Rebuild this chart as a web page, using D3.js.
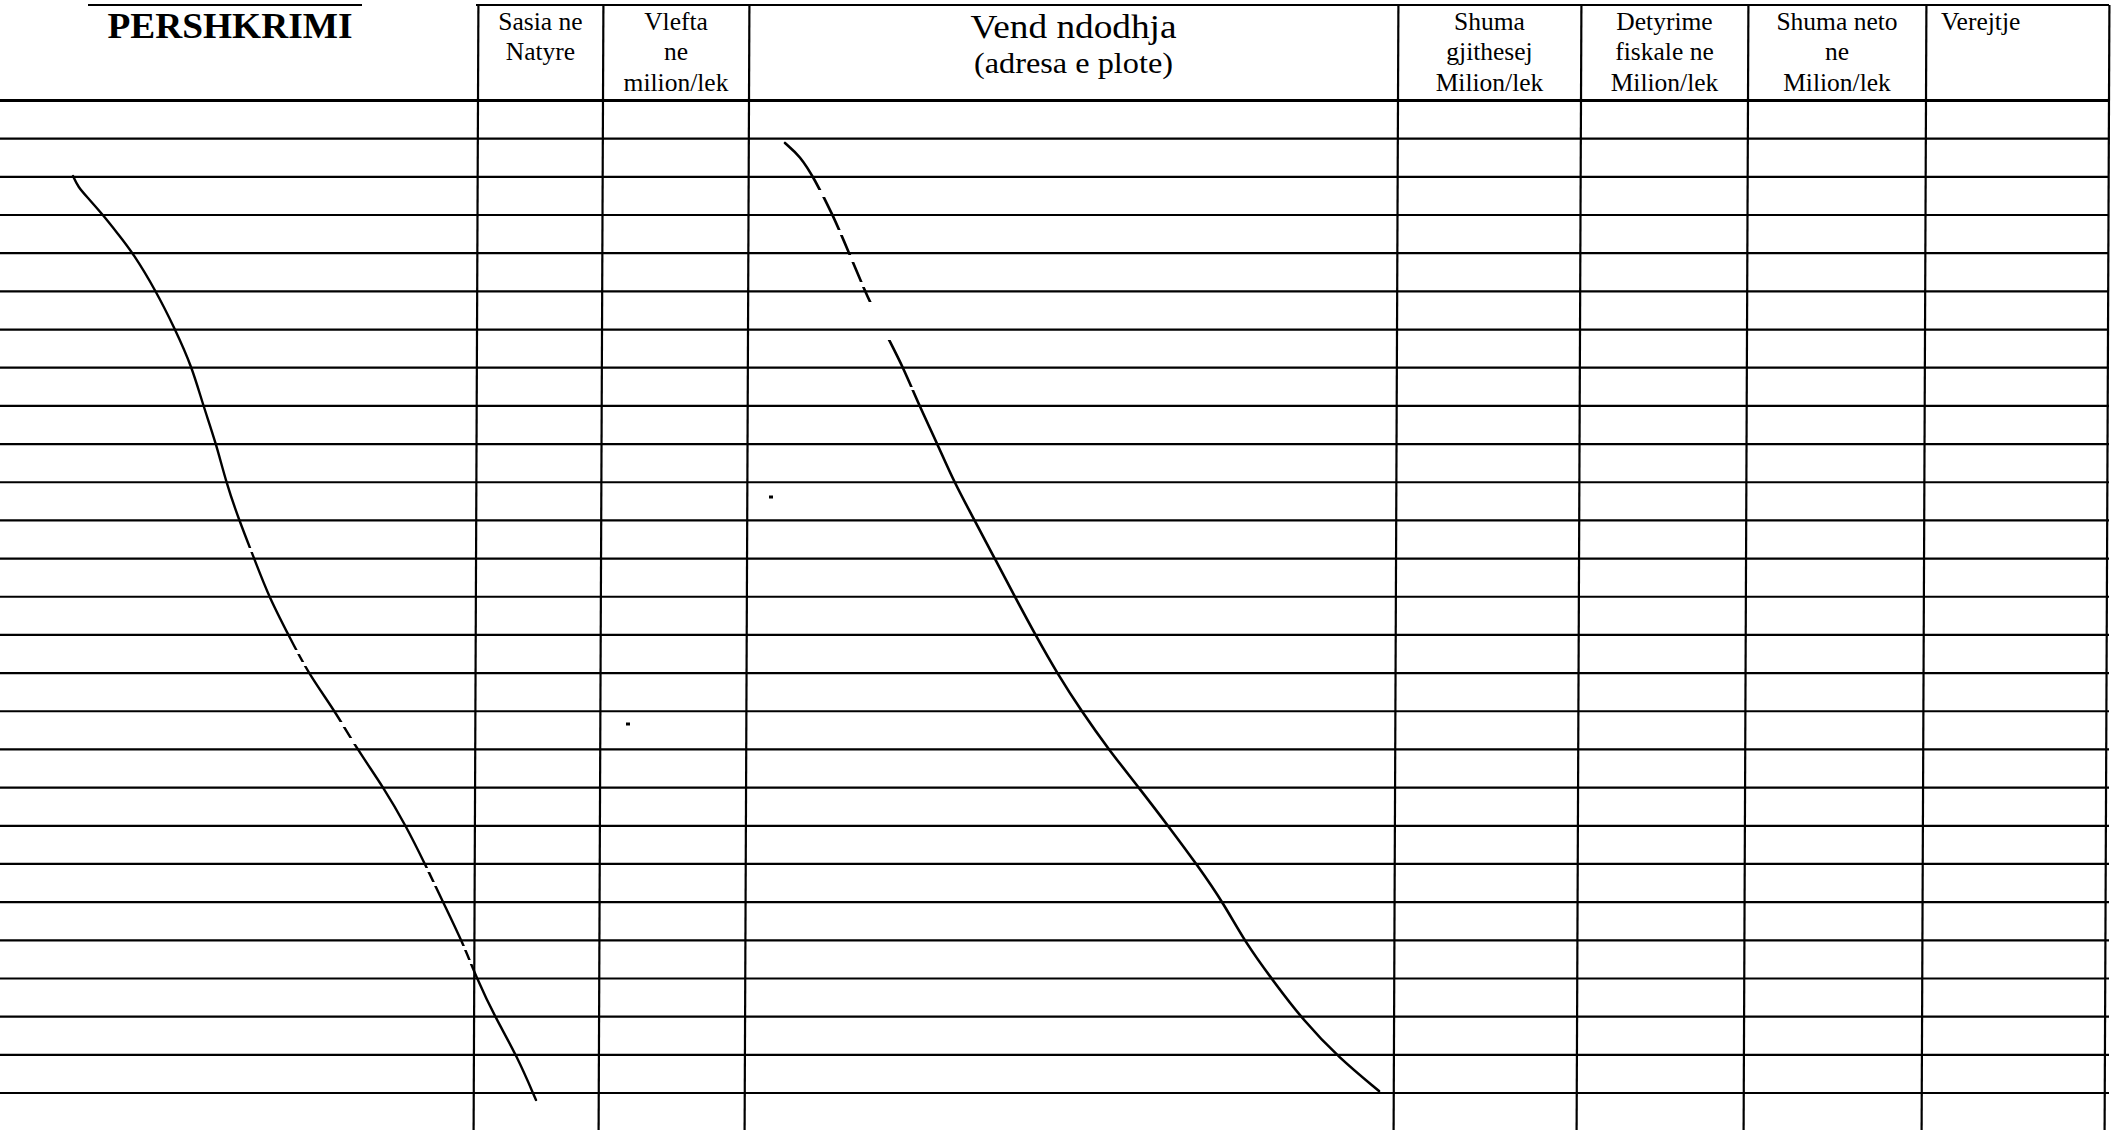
<!DOCTYPE html>
<html>
<head>
<meta charset="utf-8">
<script src="https://cdn.jsdelivr.net/npm/d3@7/dist/d3.min.js"></script>
<style>
    html, body { margin: 0; padding: 0; background: #fff; }
    svg { display: block; }
    .hdr { font-family: "Liberation Serif", "DejaVu Serif", serif; fill: #000; }
</style>
</head>
<body>
<div id="form"></div>
<script>
// Header text of each column, one entry per printed line
var headerLines = [
    ["PERSHKRIMI"],
    ["Sasia ne", "Natyre"],
    ["Vlefta", "ne", "milion/lek"],
    ["Vend ndodhja", "(adresa e plote)"],
    ["Shuma", "gjithesej", "Milion/lek"],
    ["Detyrime", "fiskale ne", "Milion/lek"],
    ["Shuma neto", "ne", "Milion/lek"],
    ["Verejtje"]
];

// Column borders (scan units)
var colEdges = [0, 478, 603, 749, 1398, 1581, 1748, 1926, 2109];

// Ruled empty rows under the header
var rowCount = 26;
var rowIndex = d3.range(0, rowCount + 1);

// Hand drawn strokes crossing out the empty rows (scan units)
var strokeLeft = [[73,176],[78,187],[88,198],[103,215],[118,234],[133,253],[156,291],[175,329],[192,367],
    [203,405],[216,443],[226,482],[239,520],[254,558],[269,597],[288,634],[308,673],[335,711],[357,749],
    [384,788],[406,826],[425,864],[443,902],[462,941],[477,979],[495,1017],[517,1056],[536,1100]];
var strokeRight = [[785,143],[800,156],[814,178],[833,215],[849,253],[865,291],[870,302],[888,338],
    [903,367],[919,405],[937,443],[954,482],[975,521],[995,559],[1015,597],[1036,636],[1057,673],
    [1082,712],[1109,750],[1140,789],[1169,827],[1198,866],[1224,904],[1245,942],[1274,982],
    [1303,1020],[1339,1058],[1379,1091]];
// pen skips (y ranges where the ink breaks)
var gapsLeft = [[548,552],[650,654],[662,666],[722,727],[738,744],[868,872],[882,886],[946,950],[960,964]];
var gapsRight = [[190,197],[230,235],[255,262],[282,287],[302,340],[387,390]];

// Small specks of the scan
var specks = [[628,724],[771,497]];

(function() {
    var svgWidth = 2112,
        svgHeight = 1130;

    var x = d3.scaleLinear().domain([0, 2112]).range([0, svgWidth]);
    var y = d3.scaleLinear().domain([0, 1130]).range([0, svgHeight]);
    var rowY = d3.scaleLinear().domain([0, rowCount]).range([y(100.5), y(1093)]);

    // scan is slightly skewed: verticals lean left going down
    var skew = -4.4 / 1030;
    function colX(edge, yy) { return x(edge) + skew * (yy - y(100)); }

    var svg = d3.select("#form").append("svg")
        .attr("width", svgWidth)
        .attr("height", svgHeight);

    // Top border of the header (broken in the scan)
    svg.selectAll(".top")
        .data([[88, 362], [476, 2109]])
        .join("line")
            .attr("x1", d => x(d[0]))
            .attr("x2", d => x(d[1]))
            .attr("y1", y(5))
            .attr("y2", y(5))
            .attr("stroke", "#000")
            .attr("stroke-width", 2);

    // Horizontal rules
    svg.selectAll(".row")
        .data(rowIndex)
        .join("line")
            .attr("class", "row")
            .attr("x1", 0)
            .attr("x2", x(colEdges[colEdges.length - 1]))
            .attr("y1", d => rowY(d))
            .attr("y2", d => rowY(d))
            .attr("stroke", "#000")
            .attr("stroke-width", d => d === 0 ? 2.8 : 2.2);

    // Vertical rules (no left border on the form)
    svg.selectAll(".col")
        .data(colEdges.slice(1))
        .join("line")
            .attr("class", "col")
            .attr("x1", d => colX(d, y(5)))
            .attr("x2", d => colX(d, svgHeight))
            .attr("y1", y(5))
            .attr("y2", svgHeight)
            .attr("stroke", "#000")
            .attr("stroke-width", 2.2);

    // Header texts
    var baselines = [30, 60, 91];
    headerLines.forEach(function(lines, i) {
        var cx = (x(colEdges[i]) + x(colEdges[i + 1])) / 2;
        var g = svg.append("g").attr("class", "hdr");
        if (i === 0) {
            g.append("text")
                .attr("x", x(230)).attr("y", y(38))
                .attr("text-anchor", "middle")
                .attr("font-size", 36).attr("font-weight", "bold")
                .attr("textLength", 245).attr("lengthAdjust", "spacingAndGlyphs")
                .text(lines[0]);
        } else if (i === 3) {
            g.append("text")
                .attr("x", cx).attr("y", y(38))
                .attr("text-anchor", "middle")
                .attr("font-size", 33)
                .attr("textLength", 206).attr("lengthAdjust", "spacingAndGlyphs")
                .text(lines[0]);
            g.append("text")
                .attr("x", cx).attr("y", y(73))
                .attr("text-anchor", "middle")
                .attr("font-size", 30)
                .attr("textLength", 199).attr("lengthAdjust", "spacingAndGlyphs")
                .text(lines[1]);
        } else if (i === 7) {
            g.append("text")
                .attr("x", x(colEdges[i]) + 15).attr("y", y(baselines[0]))
                .attr("font-size", 25.5)
                .text(lines[0]);
        } else {
            g.selectAll("text")
                .data(lines)
                .join("text")
                    .attr("x", cx)
                    .attr("y", (d, j) => y(baselines[j]))
                    .attr("text-anchor", "middle")
                    .attr("font-size", 25.5)
                    .text(d => d);
        }
    });

    // Handwritten strokes, with pen skips masked out
    var pen = d3.line()
        .x(d => x(d[0]))
        .y(d => y(d[1]))
        .curve(d3.curveBasis);

    var defs = svg.append("defs");
    [["mLeft", gapsLeft], ["mRight", gapsRight]].forEach(function(m) {
        var mask = defs.append("mask").attr("id", m[0]).attr("maskUnits", "userSpaceOnUse")
            .attr("x", 0).attr("y", 0).attr("width", svgWidth).attr("height", svgHeight);
        mask.append("rect").attr("width", svgWidth).attr("height", svgHeight).attr("fill", "#fff");
        mask.selectAll(".gap")
            .data(m[1])
            .join("rect")
                .attr("x", 0)
                .attr("width", svgWidth)
                .attr("y", d => y(d[0]))
                .attr("height", d => y(d[1]) - y(d[0]))
                .attr("fill", "#000");
    });

    svg.append("path")
        .datum(strokeLeft)
        .attr("d", pen)
        .attr("fill", "none")
        .attr("stroke", "#000")
        .attr("stroke-width", 2.4)
        .attr("stroke-linecap", "round")
        .attr("mask", "url(#mLeft)");

    svg.append("path")
        .datum(strokeRight)
        .attr("d", pen)
        .attr("fill", "none")
        .attr("stroke", "#000")
        .attr("stroke-width", 2.6)
        .attr("stroke-linecap", "round")
        .attr("mask", "url(#mRight)");

    svg.selectAll(".speck")
        .data(specks)
        .join("rect")
            .attr("x", d => x(d[0]) - 2)
            .attr("y", d => y(d[1]) - 1.5)
            .attr("width", 4)
            .attr("height", 3)
            .attr("fill", "#000");
})();
</script>
</body>
</html>
